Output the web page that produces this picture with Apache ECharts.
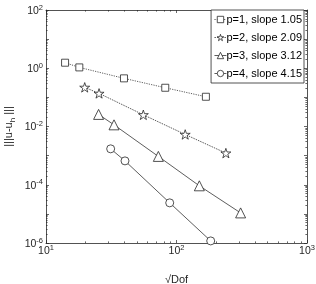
<!DOCTYPE html>
<html><head><meta charset="utf-8">
<script src="https://cdn.jsdelivr.net/npm/echarts@6/dist/echarts.min.js"></script>
<style>html,body{margin:0;padding:0;background:#fff}#c{width:316px;height:284px}</style>
</head><body><div id="c"></div>
<script>
var seriesNames = ['p=1, slope 1.05', 'p=2, slope 2.09', 'p=3, slope 3.12', 'p=4, slope 4.15'];
var p1x = [14.0, 18.0, 39.6, 82, 168];
var p1y = [1.55, 1.07, 0.45, 0.214, 0.105];
var p2x = [19.8, 25.5, 55.7, 116.6, 239];
var p2y = [0.221, 0.137, 0.0252, 0.00533, 0.00122];
var p3x = [25.3, 33.2, 72.6, 149.6, 310];
var p3y = [0.026, 0.0114, 0.00094, 9.2e-5, 1.08e-5];
var p4x = [31.3, 40.3, 88.7, 182.8];
var p4y = [0.00171, 6.6e-4, 2.39e-5, 1.18e-6];
var xDecades = [10, 100, 1000];
var yDecades = [1e-6, 1e-5, 1e-4, 1e-3, 1e-2, 1e-1, 1, 10, 100];
var yLabels = [1e-6, 1e-4, 1e-2, 1, 100];

function minorsOf(decades) {
  var out = [];
  for (var i = 0; i < decades.length - 1; i++) {
    for (var k = 2; k <= 9; k++) out.push(decades[i] * k);
  }
  return out;
}
var xMinor = minorsOf(xDecades);
var yMinor = minorsOf(yDecades);

var STAR = 'path://M100,0 L122.45,69.1 L195.1,69.1 L136.3,111.8 L158.8,180.9 L100,138.2 L41.2,180.9 L63.7,111.8 L4.9,69.1 L77.55,69.1 Z';
var FONT = '"Liberation Sans", Arial, sans-serif';
var TXT = '#262626';

function pairs(xs, ys) { return xs.map(function (x, i) { return [x, ys[i]]; }); }
function expLabel(v) {
  var e = Math.round(Math.log10(v));
  return '{b|10}{s|' + e + '}';
}
var richLab = {
  b: { fontSize: 10.5, fontFamily: FONT, color: TXT, verticalAlign: 'bottom' },
  s: { fontSize: 7.5, fontFamily: FONT, color: TXT, verticalAlign: 'bottom', padding: [0, 0, 5, 0] }
};

var markerStyle = { color: '#fff', borderColor: '#262626', borderWidth: 0.8 };
function mk(name, xs, ys, sym, size, ltype) {
  return {
    name: name, type: 'line', data: pairs(xs, ys), symbol: sym, symbolSize: size,
    symbolKeepAspect: true, showAllSymbol: true,
    lineStyle: { color: '#333', width: 0.8, type: ltype },
    itemStyle: markerStyle, emphasis: { disabled: true }, z: 3
  };
}

var axisLineOn = { show: true, lineStyle: { color: TXT, width: 0.8 } };
function tickAxis(min, max, pos, values, len, line, labelValues, margin) {
  var a = {
    type: 'log', logBase: 10, min: min, max: max, position: pos,
    axisLine: line ? axisLineOn : { show: false },
    axisTick: { show: true, inside: true, length: len, customValues: values,
      lineStyle: { color: TXT, width: 0.7 } },
    splitLine: { show: false },
    axisLabel: { show: false }
  };
  if (labelValues) {
    a.axisLabel = { show: true, customValues: labelValues, formatter: expLabel, rich: richLab, margin: margin };
  }
  return a;
}

var xAxes = [
  tickAxis(10, 1000, 'bottom', xDecades, 3, true, xDecades, 1),
  tickAxis(10, 1000, 'bottom', xMinor, 1.6, false, null),
  tickAxis(10, 1000, 'top', xDecades, 3, true, null),
  tickAxis(10, 1000, 'top', xMinor, 1.6, false, null)
];
xAxes[0].name = '\u221ADof';
xAxes[0].nameLocation = 'middle';
xAxes[0].nameGap = 31;
xAxes[0].nameMoveOverlap = false;
xAxes[0].nameTextStyle = { fontSize: 11, fontFamily: FONT, color: TXT };

var yAxes = [
  tickAxis(1e-6, 100, 'left', yDecades, 3, true, yLabels, 3),
  tickAxis(1e-6, 100, 'left', yMinor, 1.6, false, null),
  tickAxis(1e-6, 100, 'right', yDecades, 3, true, null),
  tickAxis(1e-6, 100, 'right', yMinor, 1.6, false, null)
];
yAxes[0].name = '{n||||u-u}{sub|h}{n| |||}';
yAxes[0].nameLocation = 'middle';
yAxes[0].nameGap = 29;
yAxes[0].nameRotate = 90;
yAxes[0].nameMoveOverlap = false;
yAxes[0].nameTextStyle = {
  fontSize: 11, fontFamily: FONT, color: TXT,
  rich: {
    n: { fontSize: 11, fontFamily: FONT, color: TXT, verticalAlign: 'bottom', padding: [0, 0, 3, 0] },
    sub: { fontSize: 8, fontFamily: FONT, color: TXT, verticalAlign: 'bottom' }
  }
};

var series = [
  mk(seriesNames[0], p1x, p1y, 'rect', 7, [1.2, 1.2]),
  mk(seriesNames[1], p2x, p2y, STAR, 10, [1.5, 1]),
  mk(seriesNames[2], p3x, p3y, 'triangle', 10, 'solid'),
  mk(seriesNames[3], p4x, p4y, 'circle', 8, 'solid')
];

var chart = echarts.init(document.getElementById('c'), null, { renderer: 'canvas' });
chart.setOption({
  animation: false,
  backgroundColor: '#fff',
  grid: { left: 46, right: 9, top: 10, bottom: 41, show: false, outerBoundsMode: 'none', containLabel: false },
  xAxis: xAxes,
  yAxis: yAxes,
  legend: {
    orient: 'vertical', right: 12, top: 10,
    backgroundColor: '#fff', borderColor: TXT, borderWidth: 0.8, borderRadius: 0,
    padding: [4, 2, 4, 3], itemGap: 7, itemWidth: 12, itemHeight: 8,
    itemStyle: { color: '#fff', borderColor: '#262626', borderWidth: 0.8 },
    lineStyle: { color: '#333', width: 0.8 },
    textStyle: { fontSize: 11, fontFamily: FONT, color: '#000', padding: [0, 0, 0, -5] },
    data: seriesNames
  },
  series: series
});
</script></body></html>
